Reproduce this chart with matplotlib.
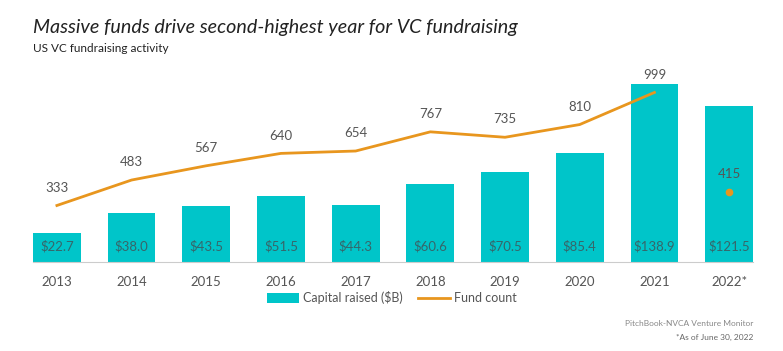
import matplotlib.pyplot as plt
import numpy as np

years = ['2013', '2014', '2015', '2016', '2017', '2018', '2019', '2020', '2021', '2022*']
capital = [22.7, 38.0, 43.5, 51.5, 44.3, 60.6, 70.5, 85.4, 138.9, 121.5]
fund_count = [333, 483, 567, 640, 654, 767, 735, 810, 999, 415]

bar_color = '#00C5C9'
line_color = '#E8961E'
text_color = '#555555'

plt.rcParams['font.family'] = ['Lato', 'DejaVu Sans']

fig = plt.figure(figsize=(7.83, 3.51), dpi=100)
ax = fig.add_axes([33 / 783, 1 - 262 / 351, 720 / 783, 205 / 351])
ax2 = ax.twinx()

x = np.arange(len(years))
ax.bar(x, capital, width=0.64, color=bar_color, zorder=2, label='Capital raised ($B)')
for xi, v in zip(x, capital):
    ax.text(xi, 12, f'${v:.1f}', ha='center', va='center', fontsize=9.5, color='#36666A')

# line through 2021, 2022 is a partial year shown as a dot
ax2.plot(x[:-1], fund_count[:-1], color=line_color, lw=2, zorder=3, label='Fund count')
ax2.plot(x[-1], fund_count[-1], 'o', color=line_color, ms=4.5, zorder=3)
for xi, v in zip(x, fund_count):
    ax2.text(xi, v + 70, str(v), ha='center', va='bottom', fontsize=9.5, color=text_color)

ax.set_xlim(-0.32, 9.32)
ax.set_ylim(0, 160)
ax2.set_ylim(0, 1208)

ax.set_xticks(x)
ax.set_xticklabels(years, fontsize=9.5, color=text_color)
ax.tick_params(axis='x', length=0, pad=10)
ax.set_yticks([])
ax2.set_yticks([])
for a in (ax, ax2):
    for s in ['top', 'right', 'left']:
        a.spines[s].set_visible(False)
ax.spines['bottom'].set_color('#CCCCCC')
ax2.spines['bottom'].set_visible(False)

h1, l1 = ax.get_legend_handles_labels()
h2, l2 = ax2.get_legend_handles_labels()
fig.legend(h1 + h2, l1 + l2, loc='center', bbox_to_anchor=(0.5, 1 - 298 / 351), ncol=2,
           frameon=False, fontsize=9, labelcolor=text_color, handlelength=2.6,
           handleheight=0.8, columnspacing=1.2, handletextpad=0.3)

fig.text(33 / 783, 1 - 27 / 351, 'Massive funds drive second-highest year for VC fundraising',
         fontsize=14.2, style='italic', color='#222222', va='center')
fig.text(33 / 783, 1 - 48 / 351, 'US VC fundraising activity', fontsize=8.5,
         color='#222222', va='center')
fig.text(753 / 783, 1 - 323 / 351, 'PitchBook-NVCA Venture Monitor', fontsize=6,
         color='#888888', ha='right', va='center')
fig.text(753 / 783, 1 - 337 / 351, '*As of June 30, 2022', fontsize=6,
         color='#666666', ha='right', va='center')

fig.savefig('out.png', dpi=100)
